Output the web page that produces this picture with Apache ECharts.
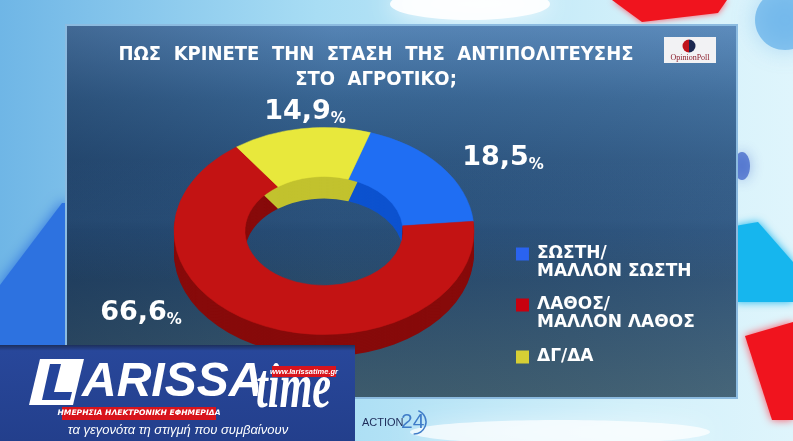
<!DOCTYPE html>
<html><head><meta charset="utf-8">
<script src="https://cdn.jsdelivr.net/npm/echarts@6/dist/echarts.min.js"></script>
<style>html,body{margin:0;padding:0;background:#b8e8f8}#c{width:793px;height:441px}</style>
</head><body><div id="c"></div>
<script>
// ---- data ----
const categories = ['ΣΩΣΤΗ/ΜΑΛΛΟΝ ΣΩΣΤΗ', 'ΛΑΘΟΣ/ΜΑΛΛΟΝ ΛΑΘΟΣ', 'ΔΓ/ΔΑ'];
const values = [18.5, 66.6, 14.9];
const titleLines = ['ΠΩΣ  ΚΡΙΝΕΤΕ  ΤΗΝ  ΣΤΑΣΗ  ΤΗΣ  ΑΝΤΙΠΟΛΙΤΕΥΣΗΣ', 'ΣΤΟ  ΑΓΡΟΤΙΚΟ;'];

// ---- styles / layout ----
const topColors = ['#1f6ef3', '#c31313', '#e8e83c'];
const sideColors = ['#0c52cf', '#870a0a', '#c2c22e'];
const legendColors = ['#2a63f0', '#c8000f', '#d6cf35'];
const labelAnchors = [[503, 158], [141, 313], [305, 112]];
const legendTops = [245, 296, 348];
const PIE = {cx: 324, cy: 231, r: 150, r0: 79, sy: 0.69, depth: 22, start: 18};

const fmt = v => v.toFixed(1).replace('.', ',');
const total = values.reduce((a, b) => a + b, 0);

function makeRender(i) {
  return function (params, api) {
    let before = 0;
    for (let k = 0; k < i; k++) before += values[k];
    const v = api.value(0);
    const t0 = PIE.start + before / total * 360;
    const t1 = t0 + v / total * 360;
    const a0 = (t0 - 90) * Math.PI / 180, a1 = (t1 - 90) * Math.PI / 180;
    const shape = {cx: PIE.cx, cy: PIE.cy, r: PIE.r, r0: PIE.r0, startAngle: a0, endAngle: a1, clockwise: true};
    const children = [];
    for (let d = PIE.depth; d >= 1; d -= 1.5) {
      children.push({type: 'sector', shape: shape, originX: PIE.cx, originY: PIE.cy, scaleY: PIE.sy, y: d, z2: 1,
        style: {fill: sideColors[i]}});
    }
    children.push({type: 'sector', shape: shape, originX: PIE.cx, originY: PIE.cy, scaleY: PIE.sy, z2: 50,
      style: {fill: topColors[i], stroke: topColors[i], lineWidth: 0.6}});
    children.push({type: 'text', x: labelAnchors[i][0], y: labelAnchors[i][1], z2: 100,
      style: {text: '{v|' + fmt(v) + '}{p|%}', align: 'center', verticalAlign: 'middle',
        rich: {
          v: {fontFamily: 'DejaVu Sans', fontWeight: 'bold', fontSize: 27, fill: '#fff', lineHeight: 30},
          p: {fontFamily: 'DejaVu Sans', fontWeight: 'bold', fontSize: 15, fill: '#fff', lineHeight: 18, verticalAlign: 'bottom'}
        }}});
    return {type: 'group', children: children};
  };
}

const series = categories.map((c, i) => ({
  type: 'custom', name: c, coordinateSystem: 'none', z: 2,
  itemStyle: {color: legendColors[i]},
  data: [values[i]],
  renderItem: makeRender(i)
}));

const legend = categories.map((c, i) => {
  const two = c.length > 6;
  return {
    data: [c], orient: 'vertical', left: 516, top: legendTops[i], padding: 0, z: 5,
    selectedMode: false, itemWidth: 16, itemHeight: two ? 31 : 13,
    icon: two ? 'path://M0,0h13v13h-13zM15.9,31h0.1v0.1h-0.1z' : 'path://M0,0h13v13h-13zM15.9,12.9h0.1v0.1h-0.1z',
    formatter: n => n.length > 6 ? n.replace('/', '/\n') : n,
    textStyle: {color: '#fff', fontFamily: 'DejaVu Sans', fontWeight: 'bold', fontSize: 17, lineHeight: 18}
  };
});

const blob = (cx, cy, rx, ry, color, blur, z) => ({type: 'ellipse', z: z, shape: {cx: cx, cy: cy, rx: rx, ry: ry},
  style: {fill: color, shadowBlur: blur, shadowColor: color}});

const graphic = [
  // sky decorations
  {type: 'rect', z: -21, shape: {x: 0, y: 0, width: 793, height: 441},
    style: {fill: {type: 'linear', x: 0, y: 0, x2: 1, y2: 0, colorStops: [
      {offset: 0, color: '#6fb6e6'}, {offset: 0.4, color: '#a8ddf4'}, {offset: 0.8, color: '#d2f0fa'}, {offset: 1, color: '#dff5fc'}]}}},
  blob(470, 4, 80, 16, 'rgba(255,255,255,0.9)', 25, -20),
  blob(785, 20, 30, 30, 'rgba(80,165,230,0.6)', 25, -20),
  blob(560, 432, 150, 12, 'rgba(255,255,255,0.7)', 25, -20),
  {type: 'polygon', z: -19, shape: {points: [[612, 0], [727, 0], [718, 13], [642, 22]]}, style: {fill: '#f0141e', shadowBlur: 6, shadowColor: '#ff5060'}},
  {type: 'polygon', z: -19, shape: {points: [[0, 285], [62, 203], [70, 203], [70, 345], [0, 345]]}, style: {fill: '#2d72e0', shadowBlur: 14, shadowColor: '#2d72e0'}},
  {type: 'polygon', z: -19, shape: {points: [[735, 226], [758, 222], [793, 262], [793, 302], [735, 302]]}, style: {fill: '#16b6ee', shadowBlur: 8, shadowColor: '#16b6ee'}},
  blob(742, 166, 8, 14, 'rgba(30,70,190,0.6)', 14, -19),
  {type: 'polygon', z: -19, shape: {points: [[745, 336], [793, 322], [793, 420], [772, 420]]}, style: {fill: '#f0141e', shadowBlur: 8, shadowColor: '#ff5060'}},
  // panel
  {type: 'rect', z: -10, shape: {x: 66, y: 25, width: 671, height: 373},
    style: {fill: {type: 'linear', x: 0, y: 0, x2: 0, y2: 1, colorStops: [
      {offset: 0, color: '#5a8abc'}, {offset: 0.2, color: '#3a6896'}, {offset: 0.55, color: '#22466e'}, {offset: 1, color: '#405e6e'}]},
      stroke: '#8cbbe0', lineWidth: 2}},
  {type: 'rect', z: -9, shape: {x: 67, y: 26, width: 669, height: 371},
    style: {fill: {type: 'linear', x: 0, y: 0, x2: 1, y2: 0, colorStops: [
      {offset: 0, color: 'rgba(10,30,60,0.3)'}, {offset: 0.4, color: 'rgba(10,30,60,0.05)'}, {offset: 1, color: 'rgba(120,160,200,0.12)'}]}}},
  {type: 'rect', z: -8, shape: {x: 67, y: 160, width: 669, height: 120},
    style: {fill: {type: 'linear', x: 0, y: 0, x2: 0, y2: 1, colorStops: [
      {offset: 0, color: 'rgba(100,160,215,0)'}, {offset: 0.5, color: 'rgba(100,160,215,0.12)'}, {offset: 1, color: 'rgba(100,160,215,0)'}]}}},
  // OpinionPoll logo
  {type: 'rect', z: 5, shape: {x: 664, y: 37, width: 52, height: 26}, style: {fill: '#f2f2f4'}},
  {type: 'sector', z: 5, shape: {cx: 689, cy: 46, r: 6.5, startAngle: Math.PI / 2, endAngle: Math.PI * 1.5}, style: {fill: '#c0141c'}},
  {type: 'sector', z: 5, shape: {cx: 689, cy: 46, r: 6.5, startAngle: -Math.PI / 2, endAngle: Math.PI / 2}, style: {fill: '#1c2850'}},
  {type: 'text', z: 5, x: 690, y: 57.5, style: {text: 'OpinionPoll', align: 'center', verticalAlign: 'middle', font: '8px "Liberation Serif"', fill: '#8a1c2a'}},
  // LARISSA time box
  {type: 'rect', z: 10, shape: {x: 0, y: 345, width: 355, height: 96},
    style: {fill: {type: 'linear', x: 0, y: 0, x2: 0, y2: 1, colorStops: [{offset: 0, color: '#1d2f5c'}, {offset: 0.06, color: '#28479a'}, {offset: 1, color: '#233f8c'}]}}},
  {type: 'polygon', z: 11, shape: {points: [[40, 359], [84, 359], [73, 405], [29, 405]]}, style: {fill: '#ffffff'}},
  {type: 'polygon', z: 12, shape: {points: [[50, 364], [61, 364], [54, 392], [72, 392], [70, 400], [42, 400]]}, style: {fill: '#24449a'}},
  {type: 'text', z: 11, x: 82, y: 383, style: {text: 'ARISSA', verticalAlign: 'middle', font: 'italic 900 48px "Liberation Sans"', fill: '#ffffff'}},
  {type: 'text', z: 11, x: 256, y: 390, scaleX: 0.66, originX: 0, originY: 0, style: {text: 'time', verticalAlign: 'middle', font: 'italic bold 64px "Liberation Serif"', fill: '#ffffff', stroke: '#1c3a8a', lineWidth: 1}},
  {type: 'rect', z: 11, shape: {x: 272, y: 366, width: 64, height: 11}, style: {fill: '#d8141c'}},
  {type: 'text', z: 12, x: 304, y: 371.5, style: {text: 'www.larissatime.gr', align: 'center', verticalAlign: 'middle', font: 'italic bold 7.5px "Liberation Sans"', fill: '#ffffff'}},
  {type: 'rect', z: 11, shape: {x: 62, y: 407, width: 154, height: 13}, style: {fill: '#d8141c'}},
  {type: 'text', z: 12, x: 139, y: 413.5, style: {text: 'ΗΜΕΡΗΣΙΑ ΗΛΕΚΤΡΟΝΙΚΗ ΕΦΗΜΕΡΙΔΑ', align: 'center', verticalAlign: 'middle', font: 'italic bold 7.6px "DejaVu Sans"', fill: '#ffffff'}},
  {type: 'text', z: 11, x: 178, y: 430, style: {text: 'τα γεγονότα τη στιγμή που συμβαίνουν', align: 'center', verticalAlign: 'middle', font: 'italic 13px "Liberation Sans"', fill: '#ffffff'}},
  // ACTION24
  {type: 'text', z: 11, x: 362, y: 423, style: {text: 'ACTION', verticalAlign: 'middle', font: '11px "Liberation Sans Narrow", "Liberation Sans"', fill: '#1e2c5a'}},
  {type: 'text', z: 11, x: 401, y: 422, style: {text: '24', verticalAlign: 'middle', font: '21px "Liberation Sans"', fill: '#3f7cc8'}},
  {type: 'arc', z: 11, shape: {cx: 414, cy: 422, r: 12, startAngle: -1.2, endAngle: 1.6}, style: {stroke: '#3f7cc8', lineWidth: 1.5, fill: 'none'}}
];

const chart = echarts.init(document.getElementById('c'), null, {renderer: 'canvas'});
chart.setOption({
  animation: false,
  backgroundColor: '#b8e8f8',
  title: {text: titleLines.join('\n'), left: 371, top: 37, textAlign: 'center', z: 5,
    textStyle: {color: '#ffffff', fontFamily: '"DejaVu Sans Condensed", "Liberation Sans Narrow", sans-serif', fontWeight: 'bold', fontSize: 20, lineHeight: 25}},
  legend: legend,
  graphic: graphic,
  series: series
});
</script></body></html>
